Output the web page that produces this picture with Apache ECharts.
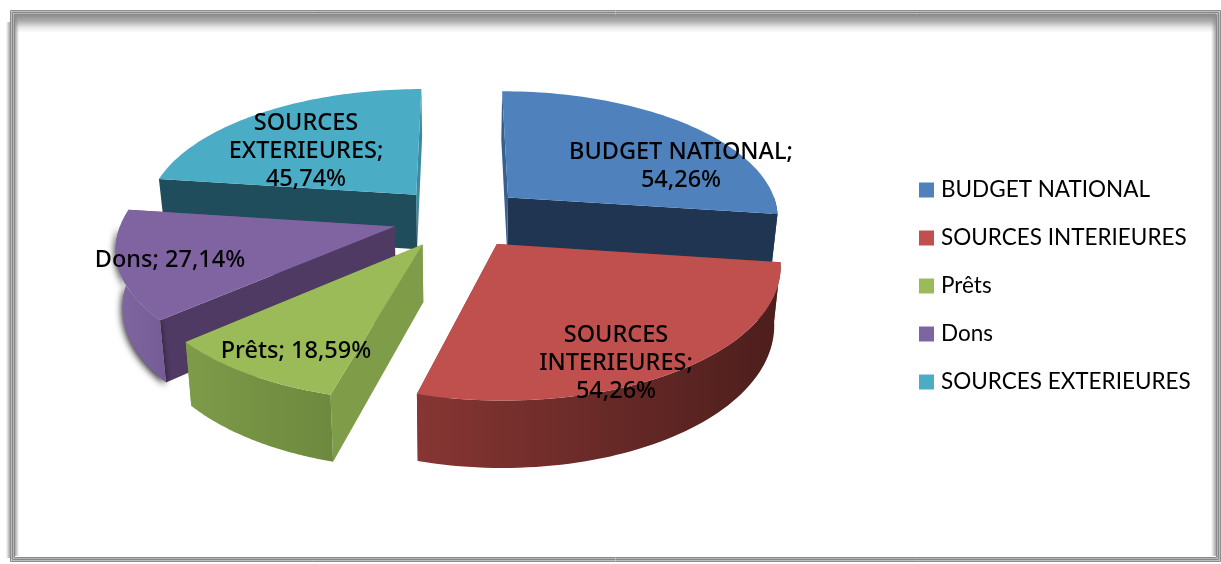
<!DOCTYPE html>
<html>
<head>
<meta charset="utf-8">
<style>
html,body{margin:0;padding:0;background:#fff;}
#chart{width:1221px;height:564px;}
</style>
<script src="https://cdn.jsdelivr.net/npm/echarts@6/dist/echarts.min.js"></script>
</head>
<body>
<div id="chart"></div>
<script>
// Slice names and shares, clockwise from twelve o'clock.
const categories = ['BUDGET NATIONAL', 'SOURCES INTERIEURES', 'Prêts', 'Dons', 'SOURCES EXTERIEURES'];
const shares = [54.26, 54.26, 18.59, 27.14, 45.74];
const labelLines = [
  ['BUDGET NATIONAL;'],
  ['SOURCES', 'INTERIEURES;'],
  [],
  [],
  ['SOURCES', 'EXTERIEURES;']
];
const labelPrefix = ['', '', 'Prêts; ', 'Dons; ', ''];
const labelCenters = [[681, 166], [616, 363], [296, 351], [170, 260], [306, 151]];

// Face colours.
const topColors = ['#4f81bd', '#c0504d', '#9bbb59', '#8064a2', '#4bacc6'];
const startWallColors = ['#3a5f8c', '#7d3230', '#7f9c49', '#4f3a63', '#1f4d5c'];
const endWallColors = ['#1f3552', '#7d3230', '#7f9c49', '#5f4a7a', '#3b8aa0'];
const outerWallStops = [
  ['#1f3552', '#1f3552'],
  ['#863633', '#4c1e1c'],
  ['#7d9b49', '#6d893e'],
  ['#8067a2', '#755c97'],
  ['#2f6f82', '#2f6f82']
];
const paintOrder = [1, 4, 3, 2, 0]; // z of each slice: far ones first

// Projection of the tilted, exploded disc onto the page.
const view = { x0: 459, y0: 217.5, rx: 272, ry: 126.4, tilt: 0.14, explode: 0.245, depth: 56, taper: 0.98 };

const total = shares.reduce((a, b) => a + b, 0);
const startAngles = shares.map((_, i) => shares.slice(0, i).reduce((a, b) => a + b, 0) / total * Math.PI * 2);

function project(u, v, low) {
  const w = 1 + view.tilt * v;
  let x = view.x0 + view.rx * u / w;
  let y = view.y0 - view.ry * v / w;
  if (low) {
    x = view.x0 + (x - view.x0) * view.taper;
    y += view.depth / w;
  }
  return [x, y];
}

function renderSlice(params, api) {
  const i = params.seriesIndex;
  const a0 = startAngles[i];
  const sweep = api.value(0) / total * Math.PI * 2;
  const a1 = a0 + sweep;
  const mid = a0 + sweep / 2;
  const ou = Math.sin(mid) * view.explode;
  const ov = Math.cos(mid) * view.explode;
  const onRim = (a, low) => project(ou + Math.sin(a), ov + Math.cos(a), low);

  const steps = 64;
  const topArc = [];
  for (let s = 0; s <= steps; s++) {
    topArc.push(onRim(a0 + sweep * s / steps, false));
  }
  const apex = project(ou, ov, false);
  const apexLow = project(ou, ov, true);

  const poly = (points, fill, extra) => ({
    type: 'polygon',
    shape: { points },
    style: Object.assign({ fill, stroke: null }, extra || {})
  });

  const children = [
    poly([apex, onRim(a1, false), onRim(a1, true), apexLow], endWallColors[i]),
    poly([apex, onRim(a0, false), onRim(a0, true), apexLow], startWallColors[i])
  ];

  // Only the near half of the rim faces the viewer.
  const from = Math.max(a0, Math.PI / 2);
  const to = Math.min(a1, Math.PI * 1.5);
  if (to > from) {
    const upper = [], lower = [];
    for (let s = 0; s <= steps; s++) {
      const a = from + (to - from) * s / steps;
      upper.push(onRim(a, false));
      lower.push(onRim(a, true));
    }
    children.push(poly(upper.concat(lower.reverse()), {
      type: 'linear', x: 0, y: 0, x2: 1, y2: 0,
      colorStops: [
        { offset: 0, color: outerWallStops[i][0] },
        { offset: 1, color: outerWallStops[i][1] }
      ]
    }, i === 3 ? { shadowBlur: 7, shadowColor: 'rgba(0,0,0,0.85)', shadowOffsetX: -1, shadowOffsetY: 2 } : null));
  }

  children.push(poly([apex].concat(topArc), topColors[i]));
  return { type: 'group', children };
}

// Data labels sit in a series of their own, above every face.
function renderLabels(params, api) {
  const i = params.dataIndex;
  const value = api.value(0).toFixed(2).replace('.', ',') + '%';
  const lines = labelLines[i].concat([labelPrefix[i] + value]);
  return {
    type: 'text',
    z2: 100,
    style: {
      x: labelCenters[i][0],
      y: labelCenters[i][1],
      text: lines.join('\n'),
      align: 'center',
      verticalAlign: 'middle',
      font: '500 23.5px "Noto Sans"',
      lineHeight: 28,
      fill: '#000'
    }
  };
}

const sliceSeries = categories.map((name, i) => ({
  name,
  type: 'custom',
  coordinateSystem: 'none',
  z: 2 + paintOrder[i],
  silent: true,
  animation: false,
  itemStyle: { color: topColors[i] },
  renderItem: renderSlice,
  data: [[shares[i]]]
}));

const labelSeries = {
  type: 'custom',
  coordinateSystem: 'none',
  z: 20,
  silent: true,
  animation: false,
  renderItem: renderLabels,
  data: shares.map(v => [v])
};

// Picture frame: stacked thin rules with a soft shade along the inner top, left and right.
const rule = (x, y, width, height, stroke) => ({
  type: 'rect', silent: true, z: 1,
  shape: { x, y, width, height },
  style: { fill: 'none', stroke, lineWidth: 1 }
});
const shade = (x, y, width, height, x1, y1, x2, y2, stops) => ({
  type: 'rect', silent: true, z: 0,
  shape: { x, y, width, height },
  style: {
    fill: {
      type: 'linear', x: x1, y: y1, x2, y2,
      colorStops: stops
    }
  }
});
const softFade = [
  { offset: 0, color: 'rgba(140,140,140,1)' },
  { offset: 0.35, color: 'rgba(140,140,140,0.7)' },
  { offset: 0.7, color: 'rgba(140,140,140,0.2)' },
  { offset: 1, color: 'rgba(140,140,140,0)' }
];
const softEdge = [
  { offset: 0, color: 'rgba(150,150,150,0.85)' },
  { offset: 1, color: 'rgba(150,150,150,0)' }
];
const frame = [
  shade(15, 15, 4, 541, 0, 0, 1, 0, softEdge),
  shade(1211, 15, 5, 541, 1, 0, 0, 0, softEdge),
  shade(6, 22, 4, 536, 1, 0, 0, 0, softEdge),
  shade(15, 15, 1201, 18, 0, 0, 0, 1, softFade),
  rule(10.5, 10.5, 1210, 551, '#8e8e8e'),
  rule(11.5, 11.5, 1208, 549, '#bebebe'),
  rule(12.5, 12.5, 1206, 547, '#868686'),
  rule(13.5, 13.5, 1204, 545, '#b4b4b4'),
  rule(14.5, 14.5, 1202, 543, '#8a8a8a')
];

const chart = echarts.init(document.getElementById('chart'), null, { renderer: 'canvas' });
chart.setOption({
  backgroundColor: '#ffffff',
  animation: false,
  legend: {
    show: true,
    orient: 'vertical',
    left: 914,
    top: 171,
    icon: 'rect',
    itemWidth: 15,
    itemHeight: 15,
    itemGap: 20,
    selectedMode: false,
    data: categories,
    textStyle: { fontFamily: 'Lato', fontSize: 22.5, color: '#000', padding: [0, 0, 0, 2], lineHeight: 28 }
  },
  graphic: frame,
  series: sliceSeries.concat([labelSeries])
});
</script>
</body>
</html>
